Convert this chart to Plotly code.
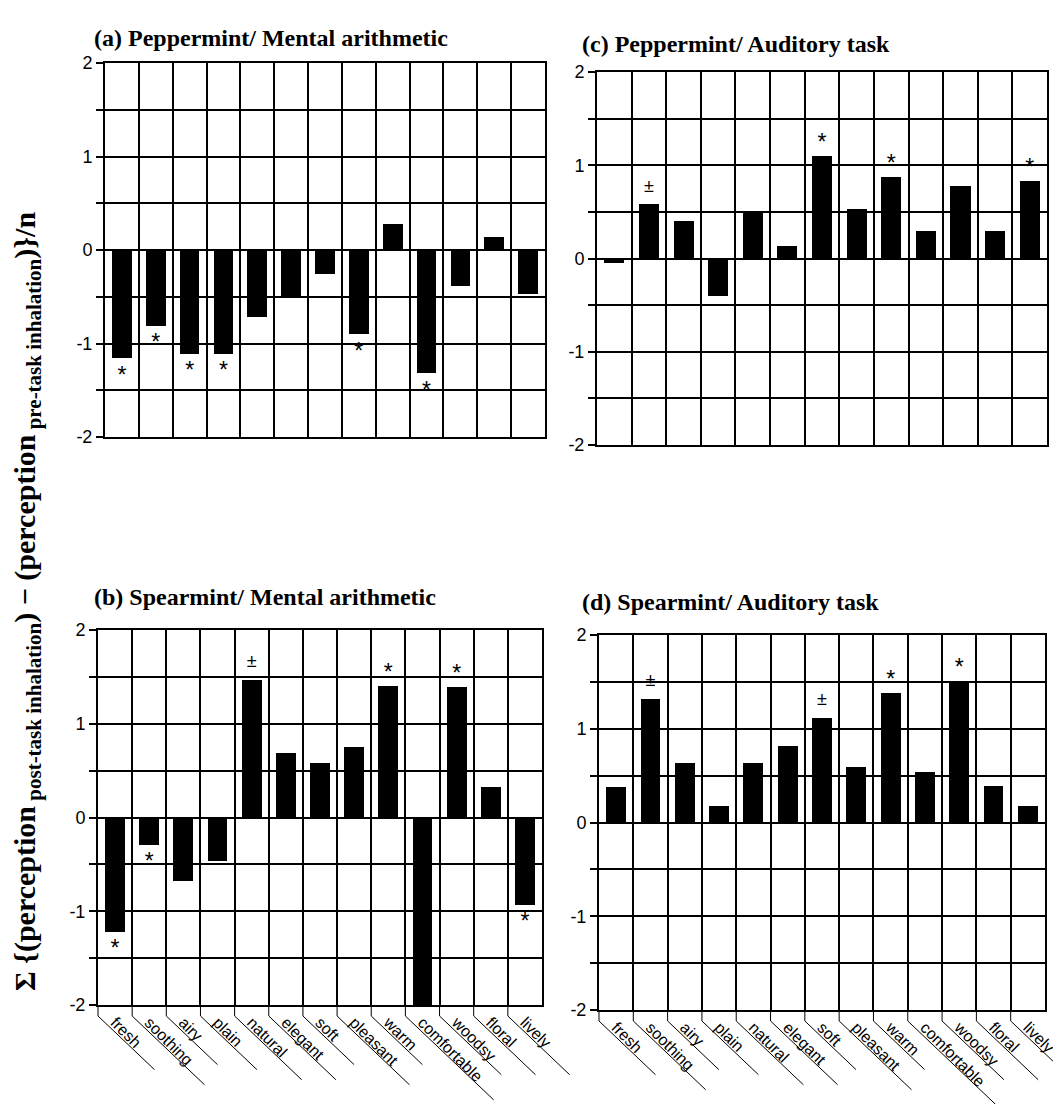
import plotly.graph_objects as go

# ---------------- data ----------------
categories = ["fresh", "soothing", "airy", "plain", "natural", "elegant", "soft",
              "pleasant", "warm", "comfortable", "woodsy", "floral", "lively"]

pep_math = [-1.16, -0.81, -1.11, -1.11, -0.72, -0.51, -0.26, -0.90, 0.28, -1.32, -0.38, 0.14, -0.47]
pep_math_sig = ["*", "*", "*", "*", "", "", "", "*", "", "*", "", "", ""]

pep_aud = [-0.05, 0.58, 0.40, -0.40, 0.50, 0.13, 1.10, 0.53, 0.87, 0.30, 0.78, 0.30, 0.83]
pep_aud_sig = ["", "±", "", "", "", "", "*", "", "*", "", "", "", "*"]

spe_math = [-1.22, -0.29, -0.68, -0.46, 1.47, 0.69, 0.58, 0.75, 1.40, -2.0, 1.39, 0.33, -0.93]
spe_math_sig = ["*", "*", "", "", "±", "", "", "", "*", "", "*", "", "*"]

spe_aud = [0.38, 1.32, 0.64, 0.18, 0.64, 0.82, 1.12, 0.59, 1.38, 0.54, 1.51, 0.39, 0.18]
spe_aud_sig = ["", "±", "", "", "", "", "±", "", "*", "", "*", "", ""]

titles = ["(a) Peppermint/ Mental arithmetic", "(c) Peppermint/ Auditory task",
          "(b) Spearmint/ Mental arithmetic", "(d) Spearmint/ Auditory task"]
y_ticks = [-2, -1, 0, 1, 2]

# ---------------- layout geometry (pixels) ----------------
W, H = 1061, 1104
OX, OY = 8, 8  # page offset of the plot inside the browser window
# panel boxes: (left, right, top, bottom) in window pixels
boxes = [(105, 545, 63, 437),   # a
         (597, 1047, 72, 445),  # c
         (98, 542, 630, 1005),  # b
         (599, 1045, 635, 1010)]  # d
title_pos = [(92, 38), (580, 44), (92, 597), (580, 602)]
panels = [(pep_math, pep_math_sig), (pep_aud, pep_aud_sig),
          (spe_math, spe_math_sig), (spe_aud, spe_aud_sig)]


def px(x):
    return (x - OX) / W


def py(y):
    return 1 - (y - OY) / H


fig = go.Figure()
n = len(categories)
xs = list(range(n))
bounds = [i - 0.5 for i in range(n + 1)]

SANS = "Liberation Sans"
SERIF = "Liberation Serif"


def mark_offset(v, s):
    if s == "±":
        return 0.18 if v > 0 else -0.18
    return 0.13 if v > 0 else -0.20


for k, ((vals, sig), (l, r, t, b)) in enumerate(zip(panels, boxes)):
    sfx = "" if k == 0 else str(k + 1)
    xa, ya = "x" + sfx, "y" + sfx
    fig.add_trace(go.Bar(x=xs, y=vals, width=0.58, marker=dict(color="black", line=dict(width=0)),
                         xaxis=xa, yaxis=ya, showlegend=False))
    sx = [x for x, s in zip(xs, sig) if s]
    sy = [v + mark_offset(v, s) for v, s in zip(vals, sig) if s]
    st = [s for s in sig if s]
    ss = [23 if s == "*" else 18 for s in st]
    fig.add_trace(go.Scatter(x=sx, y=sy, text=st, mode="text", cliponaxis=False,
                             textfont=dict(family=SANS, size=ss, color="black"),
                             xaxis=xa, yaxis=ya, showlegend=False, hoverinfo="skip"))
    bottom_row = k >= 2
    fig.layout["xaxis" + sfx] = dict(
        domain=[px(l), px(r)], anchor=ya, range=[-0.5, n - 0.5], automargin=False,
        tickmode="array", tickvals=xs, ticktext=categories,
        showticklabels=bottom_row, tickangle=45, ticks="",
        tickfont=dict(family=SANS, size=16, color="black"),
        showgrid=False, zeroline=False,
        showline=True, mirror=True, linecolor="black", linewidth=2,
        minor=dict(tickmode="array", tickvals=bounds, showgrid=True,
                   gridcolor="black", gridwidth=1.8, ticks=""),
    )
    fig.layout["yaxis" + sfx] = dict(
        domain=[py(b), py(t)], anchor=xa, range=[-2, 2], automargin=False,
        tickmode="array", tickvals=y_ticks, ticktext=[str(v) for v in y_ticks],
        ticks="outside", ticklen=7, tickwidth=1.5, tickcolor="black",
        tickfont=dict(family=SANS, size=18, color="black"),
        showgrid=True, gridcolor="black", gridwidth=1.8, zeroline=False,
        showline=True, mirror=True, linecolor="black", linewidth=2,
        minor=dict(dtick=0.5, showgrid=True, gridcolor="black", gridwidth=1.8,
                   ticks="outside", ticklen=7, tickwidth=1.5, tickcolor="black"),
    )
    # panel title
    tx, ty = title_pos[k]
    fig.add_annotation(x=px(tx), y=py(ty), xref="paper", yref="paper",
                       xanchor="left", yanchor="middle", showarrow=False,
                       text="<b>" + titles[k] + "</b>",
                       font=dict(family=SERIF, size=24, color="black"))
    # leader lines under category labels
    if bottom_row:
        colw = (r - l) / n
        for i, cat in enumerate(categories):
            xl = l + i * colw
            y1 = b + 11
            dx = 30 + 5.3 * len(cat)
            path = "M {:.5f},{:.5f} L {:.5f},{:.5f} L {:.5f},{:.5f}".format(
                px(xl), py(b), px(xl), py(y1), px(xl + dx), py(y1 + dx * 0.95))
            fig.add_shape(type="path", path=path, xref="paper", yref="paper",
                          line=dict(color="black", width=1))

# y axis title
fig.add_annotation(
    x=px(27), y=py(602), xref="paper", yref="paper", showarrow=False,
    textangle=-90, xanchor="center", yanchor="middle",
    text="<b>Σ {(perception<sub> post-task inhalation</sub>) − (perception<sub> pre-task inhalation</sub>)}/n</b>",
    font=dict(family=SERIF, size=30, color="black"))

fig.update_layout(width=W, height=H, margin=dict(l=0, r=0, t=0, b=0),
                  paper_bgcolor="white", plot_bgcolor="white", bargap=0)

fig.write_html("out.html")
